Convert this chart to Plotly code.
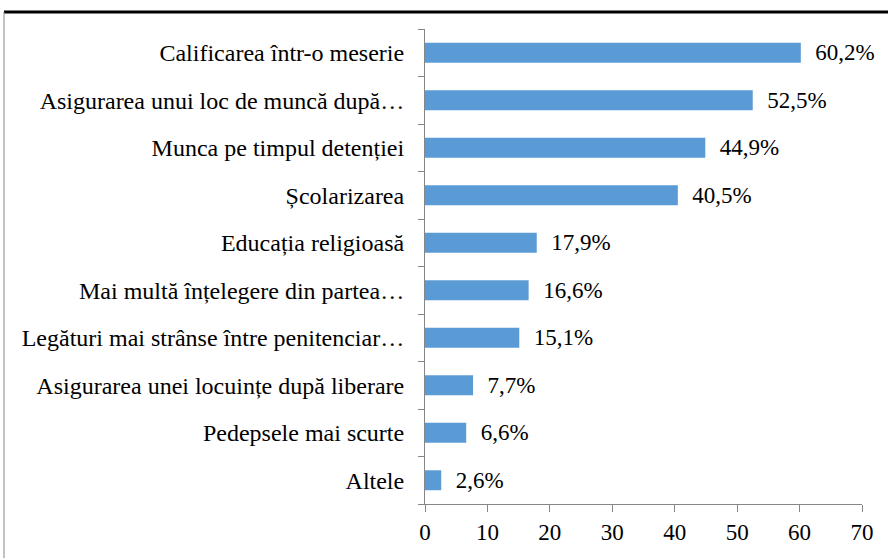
import plotly.graph_objects as go

categories = [
    "Calificarea într-o meserie",
    "Asigurarea unui loc de muncă după…",
    "Munca pe timpul detenției",
    "Școlarizarea",
    "Educația religioasă",
    "Mai multă înțelegere din partea…",
    "Legături mai strânse între penitenciar…",
    "Asigurarea unei locuințe după liberare",
    "Pedepsele mai scurte",
    "Altele",
]
values = [60.2, 52.5, 44.9, 40.5, 17.9, 16.6, 15.1, 7.7, 6.6, 2.6]
labels = ["\u00a0\u00a0" + f"{v:.1f}%".replace(".", ",") for v in values]
x_ticks = [0, 10, 20, 30, 40, 50, 60, 70]

FONT = "Liberation Serif"

fig = go.Figure(
    go.Bar(
        y=categories,
        x=values,
        orientation="h",
        marker=dict(color="#5B9BD5", line=dict(width=0)),
        text=labels,
        textposition="outside",
        constraintext="none",
        textfont=dict(family=FONT, size=23, color="#000000"),
        cliponaxis=False,
    )
)

fig.update_layout(
    width=888,
    height=558,
    margin=dict(l=425, r=26, t=29, b=54, autoexpand=False),
    paper_bgcolor="white",
    plot_bgcolor="white",
    bargap=0.58,
    showlegend=False,
    font=dict(family=FONT, size=23, color="#000000"),
    xaxis=dict(
        range=[0, 70],
        tickvals=x_ticks,
        showgrid=False,
        zeroline=False,
        showline=True,
        linecolor="#868686",
        linewidth=1,
        ticks="outside",
        ticklen=7,
        tickcolor="#868686",
        automargin=False,
        tickfont=dict(family=FONT, size=23, color="#000000"),
    ),
    yaxis=dict(
        categoryorder="array",
        categoryarray=categories[::-1],
        showgrid=False,
        showline=True,
        linecolor="#868686",
        linewidth=1,
        ticks="outside",
        tickson="boundaries",
        ticklen=6,
        tickcolor="#868686",
        ticklabelstandoff=15,
        automargin=False,
        tickfont=dict(family=FONT, size=24, color="#000000"),
    ),
    shapes=[
        dict(type="line", xref="paper", yref="paper",
             x0=(4 - 425) / 437, x1=(888 - 425) / 437,
             y0=(504 - 12) / 475, y1=(504 - 12) / 475,
             line=dict(color="#000000", width=3)),
        dict(type="line", xref="paper", yref="paper",
             x0=(4 - 425) / 437, x1=(4 - 425) / 437,
             y0=(504 - 12) / 475, y1=(504 - 560) / 475,
             line=dict(color="#868686", width=1)),
    ],
)

fig.write_html("out.html", config={"displayModeBar": False},
               post_script="document.body.style.margin='0';")
